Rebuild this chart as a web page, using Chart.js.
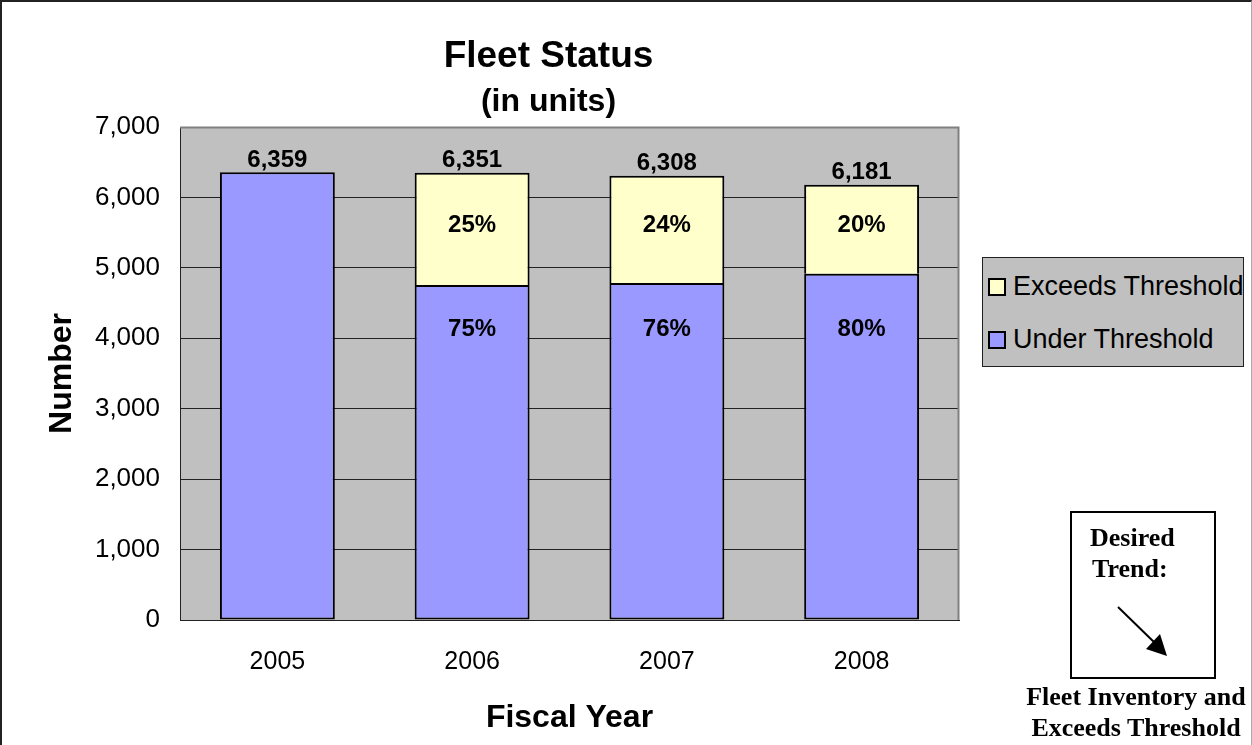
<!DOCTYPE html>
<html><head><meta charset="utf-8">
<script src="https://cdn.jsdelivr.net/npm/chart.js@4.4.1/dist/chart.umd.min.js"></script>
<style>
html,body{margin:0;padding:0;background:#fff;}
#wrap{position:relative;width:1252px;height:745px;overflow:hidden;font-family:"Liberation Sans",Arial,sans-serif;}
#frame{position:absolute;left:0;top:0;width:1252px;height:760px;box-sizing:border-box;border-top:2px solid #222;border-left:2px solid #222;border-right:1px solid #aaa;pointer-events:none;}
canvas{position:absolute;left:0;top:0;}
.t{position:absolute;white-space:nowrap;color:#000;}
.sans{font-family:"Liberation Sans",Arial,sans-serif;}
.serif{font-family:"Liberation Serif","Times New Roman",serif;font-weight:bold;font-size:26px;line-height:26px;}
#legend{position:absolute;left:982px;top:257px;width:262px;height:110px;box-sizing:border-box;background:#C0C0C0;border:1px solid #222;}
.sw{position:absolute;left:5px;width:18px;height:18px;box-sizing:border-box;border:2px solid #000;}
.lt{position:absolute;left:30px;font-size:27px;line-height:27px;color:#000;white-space:nowrap;}
#trend{position:absolute;left:1070px;top:511px;width:146px;height:168px;box-sizing:border-box;border:2px solid #000;}
</style></head><body>
<div id="wrap">
<canvas id="c" width="1252" height="745"></canvas>
<div class="t sans" style="left:0;width:1097px;text-align:center;top:36px;font-weight:bold;font-size:37px;line-height:37px;">Fleet Status</div>
<div class="t sans" style="left:0;width:1097px;text-align:center;top:84px;font-weight:bold;font-size:32px;line-height:32px;">(in units)</div>
<div id="legend">
  <div class="sw" style="top:20px;background:#FFFFCC;"></div>
  <div class="lt" style="top:15px;">Exceeds Threshold</div>
  <div class="sw" style="top:73px;background:#9999FF;"></div>
  <div class="lt" style="top:68px;">Under Threshold</div>
</div>
<div id="trend">
  <div class="t serif" style="left:18px;top:12px;">Desired</div>
  <div class="t serif" style="left:20px;top:43px;">Trend:</div>
  <svg style="position:absolute;left:0;top:0;" width="146" height="168">
    <line x1="46" y1="94" x2="84" y2="131" stroke="#000" stroke-width="2"/>
    <polygon points="74,136 88,121 95,143" fill="#000"/>
  </svg>
</div>
<div class="t serif" style="left:1016px;width:240px;text-align:center;top:684px;">Fleet Inventory and</div>
<div class="t serif" style="left:1016px;width:240px;text-align:center;top:715px;">Exceeds Threshold</div>
<div id="frame"></div>
</div>
<script>
const categories = ['2005', '2006', '2007', '2008'];
const underThreshold = [6359, 4755, 4785, 4915];
const exceedsThreshold = [null, 1596, 1523, 1266];
const underPctLabels = ['', '75%', '76%', '80%'];
const exceedsPctLabels = ['', '25%', '24%', '20%'];
const yTickMin = 0, yTickMax = 7000, yTickStep = 1000;

const FONT = '"Liberation Sans", Arial, sans-serif';

const plotBg = {
  id: 'plotBg',
  beforeDraw(chart) {
    const {ctx, chartArea: a} = chart;
    ctx.save();
    ctx.fillStyle = '#C0C0C0';
    ctx.fillRect(a.left, a.top, a.right - a.left, a.bottom - a.top);
    ctx.restore();
  },
  beforeDatasetsDraw(chart) {
    const {ctx, chartArea: a} = chart;
    ctx.save();
    ctx.strokeStyle = '#808080';
    ctx.lineWidth = 2;
    ctx.beginPath();
    ctx.moveTo(a.left, a.top + 0.5);
    ctx.lineTo(a.right - 0.5, a.top + 0.5);
    ctx.lineTo(a.right - 0.5, a.bottom);
    ctx.stroke();
    ctx.restore();
  }
};

const labelsPlugin = {
  id: 'barLabels',
  afterDatasetsDraw(chart) {
    const {ctx, chartArea: a} = chart;
    const y = chart.scales.y;
    const meta = chart.getDatasetMeta(0);
    ctx.save();
    ctx.fillStyle = '#000';
    ctx.font = 'bold 24px ' + FONT;
    ctx.textAlign = 'center';
    ctx.textBaseline = 'middle';
    categories.forEach((c, i) => {
      const x = meta.data[i].x;
      const total = (underThreshold[i] || 0) + (exceedsThreshold[i] || 0);
      ctx.fillText(total.toLocaleString('en-US'), x, y.getPixelForValue(total) - 12);
      if (exceedsPctLabels[i]) ctx.fillText(exceedsPctLabels[i], x, a.top + 98);
      if (underPctLabels[i]) ctx.fillText(underPctLabels[i], x, a.top + 202);
    });
    ctx.restore();
  }
};

new Chart(document.getElementById('c'), {
  type: 'bar',
  data: {
    labels: categories,
    datasets: [
      { label: 'Under Threshold', data: underThreshold, backgroundColor: '#9999FF',
        borderColor: '#000', borderWidth: 2, borderSkipped: false },
      { label: 'Exceeds Threshold', data: exceedsThreshold, backgroundColor: '#FFFFCC',
        borderColor: '#000', borderWidth: 2, borderSkipped: 'start' }
    ]
  },
  options: {
    responsive: false,
    animation: false,
    devicePixelRatio: 1,
    layout: { padding: { left: 0, top: 127, right: 293, bottom: 0 } },
    datasets: { bar: { barPercentage: 0.59, categoryPercentage: 1 } },
    plugins: { legend: { display: false }, title: { display: false }, tooltip: { enabled: false } },
    scales: {
      x: {
        stacked: true,
        afterFit(s) { s.height = 125; },
        grid: { display: false },
        border: { display: true, color: '#222', width: 1 },
        ticks: { color: '#000', font: { family: FONT, size: 25 }, padding: 19 },
        title: { display: true, text: 'Fiscal Year', color: '#000',
                 font: { family: FONT, size: 32, weight: 'bold' }, padding: { top: 0, bottom: 8 } }
      },
      y: {
        stacked: true,
        min: yTickMin, max: yTickMax,
        afterFit(s) { s.width = 180; },
        grid: { color: '#222', lineWidth: 1, drawTicks: false },
        border: { display: true, color: '#222', width: 1 },
        ticks: { stepSize: yTickStep, color: '#000', font: { family: FONT, size: 26 }, padding: 20,
                 callback: v => v.toLocaleString('en-US') },
        title: { display: true, text: 'Number', color: '#000',
                 font: { family: FONT, size: 32, weight: 'bold' }, padding: { top: 43, bottom: 0 } }
      }
    }
  },
  plugins: [plotBg, labelsPlugin]
});
</script>
</body></html>
